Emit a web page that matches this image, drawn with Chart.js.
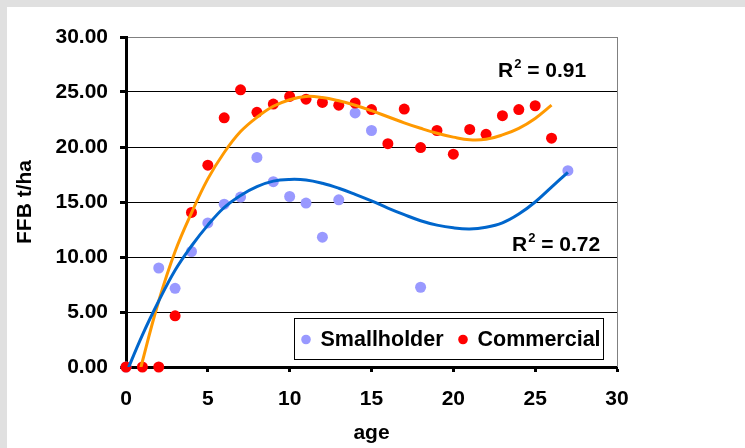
<!DOCTYPE html>
<html>
<head>
<meta charset="utf-8">
<script src="https://cdn.jsdelivr.net/npm/chart.js@4.4.0/dist/chart.umd.min.js"></script>
<style>
  html, body { margin: 0; padding: 0; background: #e0e0e0; }
  #wrap { position: absolute; left: 7px; top: 7px; width: 738px; height: 441px; background: #fff; }
</style>
</head>
<body>
<div id="wrap"><canvas id="ffbChart" width="738" height="441"></canvas></div>
<script>
// observed yields (FFB t/ha) by palm age
const smallholderAge = [0, 2, 3, 4, 5, 6, 7, 8, 9, 10, 11, 12, 13, 14, 15, 18, 27];
const smallholderYield = [0, 9.0, 7.15, 10.5, 13.1, 14.8, 15.45, 19.05, 16.85, 15.5, 14.9, 11.8, 15.2, 23.1, 21.5, 7.25, 17.85];

const commercialAge = [0, 1, 2, 3, 4, 5, 6, 7, 8, 9, 10, 11, 12, 13, 14, 15, 16, 17, 18, 19, 20, 21, 22, 23, 24, 25, 26];
const commercialYield = [0, 0, 0, 4.65, 14.05, 18.35, 22.65, 25.2, 23.15, 23.9, 24.6, 24.35, 24.05, 23.8, 24.0, 23.4, 20.3, 23.45, 19.95, 21.5, 19.35, 21.6, 21.15, 22.85, 23.4, 23.75, 20.8];

// polynomial trendlines
const smallholderTrendAge = [0, 1, 2, 3, 4, 5, 6, 7, 8, 9, 10, 11, 12, 13, 14, 15, 16, 17, 18, 19, 20, 21, 22, 23, 24, 25, 26, 27];
const smallholderTrend = [-0.6, 2.9, 6.0, 8.8, 11.0, 12.9, 14.5, 15.6, 16.4, 16.9, 17.05, 17.0, 16.7, 16.25, 15.7, 15.1, 14.45, 13.85, 13.3, 12.9, 12.65, 12.55, 12.7, 13.1, 13.9, 15.0, 16.35, 17.7];
const commercialTrendAge = [0, 1, 2, 3, 4, 5, 6, 7, 8, 9, 10, 11, 12, 13, 14, 15, 16, 17, 18, 19, 20, 21, 22, 23, 24, 25, 26];
const commercialTrend = [-5.5, 0.5, 6.0, 10.5, 14.0, 17.1, 19.5, 21.4, 22.7, 23.7, 24.3, 24.6, 24.5, 24.2, 23.8, 23.3, 22.75, 22.2, 21.7, 21.25, 20.9, 20.65, 20.7, 21.1, 21.7, 22.6, 23.8];

const xTicks = [0, 5, 10, 15, 20, 25, 30];
const yTicks = [0, 5, 10, 15, 20, 25, 30];
const r2Labels = ['0.91', '0.72'];

const FONT = 'Liberation Sans, Arial, sans-serif';

const pts = (xs, ys) => xs.map((x, i) => ({ x: x, y: ys[i] }));

// gray frame on the right edge of the plot
const plotFrame = {
    id: 'plotFrame',
    beforeDatasetsDraw(chart) {
        const { ctx, chartArea: a } = chart;
        ctx.save();
        ctx.strokeStyle = '#808080';
        ctx.lineWidth = 1;
        ctx.beginPath();
        ctx.moveTo(a.right + 0.5, a.top);
        ctx.lineTo(a.right + 0.5, a.bottom);
        ctx.stroke();
        ctx.restore();
    }
};

function drawR2(ctx, x, y, value) {
    ctx.font = 'bold 21px ' + FONT;
    ctx.fillText('R', x, y);
    let w = ctx.measureText('R').width;
    ctx.font = 'bold 13px ' + FONT;
    ctx.fillText('2', x + w + 1, y - 9);
    w += ctx.measureText('2').width + 1;
    ctx.font = 'bold 21px ' + FONT;
    ctx.fillText(' = ' + value, x + w, y);
}

const overlays = {
    id: 'overlays',
    afterDraw(chart) {
        const { ctx, chartArea: a } = chart;
        ctx.save();
        ctx.fillStyle = '#000';
        ctx.textBaseline = 'alphabetic';
        ctx.textAlign = 'left';
        drawR2(ctx, 491, 70, r2Labels[0]);
        drawR2(ctx, 505, 244, r2Labels[1]);

        // legend box
        const bw = 309, bh = 41;
        const bx = a.right - 14 - bw, by = a.bottom - 8 - bh;
        ctx.fillStyle = '#fff';
        ctx.fillRect(bx, by, bw, bh);
        ctx.strokeStyle = '#000';
        ctx.lineWidth = 1;
        ctx.strokeRect(bx + 0.5, by + 0.5, bw, bh);
        const items = [chart.data.datasets[0], chart.data.datasets[1]];
        const offs = [12, 169];
        ctx.font = 'bold 21.5px ' + FONT;
        items.forEach((ds, i) => {
            ctx.fillStyle = ds.backgroundColor;
            ctx.beginPath();
            ctx.arc(bx + offs[i], by + 21.5, 4.8, 0, Math.PI * 2);
            ctx.fill();
            ctx.fillStyle = '#000';
            ctx.fillText(ds.label, bx + offs[i] + 14.5, by + 28);
        });
        ctx.restore();
    }
};

new Chart(document.getElementById('ffbChart'), {
    type: 'scatter',
    data: {
        datasets: [
            {
                label: 'Smallholder',
                data: pts(smallholderAge, smallholderYield),
                backgroundColor: '#9999FF',
                pointRadius: 5.5,
                pointBorderWidth: 0,
                clip: false,
                order: 3
            },
            {
                label: 'Commercial',
                data: pts(commercialAge, commercialYield),
                backgroundColor: '#FF0000',
                pointRadius: 5.5,
                pointBorderWidth: 0,
                clip: false,
                order: 2
            },
            {
                label: 'Commercial trend',
                data: pts(commercialTrendAge, commercialTrend),
                showLine: true,
                borderColor: '#FF9900',
                borderWidth: 3,
                pointRadius: 0,
                tension: 0.4,
                clip: 0,
                order: 1
            },
            {
                label: 'Smallholder trend',
                data: pts(smallholderTrendAge, smallholderTrend),
                showLine: true,
                borderColor: '#0066CC',
                borderWidth: 3,
                pointRadius: 0,
                tension: 0.4,
                clip: 0,
                order: 0
            }
        ]
    },
    options: {
        responsive: false,
        animation: false,
        layout: { padding: { left: 0, top: 30, right: 128, bottom: 0 } },
        plugins: {
            legend: { display: false },
            tooltip: { enabled: false }
        },
        scales: {
            x: {
                type: 'linear',
                min: 0,
                max: 30,
                afterBuildTicks: s => { s.ticks = xTicks.map(v => ({ value: v })); },
                afterFit: s => { s.height = 81; },
                ticks: {
                    color: '#000',
                    font: { family: FONT, size: 21, weight: 'bold' },
                    padding: 15,
                    maxRotation: 0
                },
                grid: {
                    color: 'rgba(0,0,0,0)',
                    tickColor: '#000',
                    tickLength: 5,
                    tickWidth: 3
                },
                border: { color: '#000', width: 3 },
                title: {
                    display: true,
                    text: 'age',
                    color: '#000',
                    font: { family: FONT, size: 21, weight: 'bold' },
                    padding: { top: 0, bottom: 2 }
                }
            },
            y: {
                min: 0,
                max: 30,
                afterBuildTicks: s => { s.ticks = yTicks.map(v => ({ value: v })); },
                afterFit: s => { s.width = 119; },
                ticks: {
                    color: '#000',
                    font: { family: FONT, size: 21, weight: 'bold' },
                    padding: 12,
                    callback: v => v.toFixed(2)
                },
                grid: {
                    color: c => (c.tick && c.tick.value === 30) ? '#808080' : '#000',
                    lineWidth: 1,
                    tickColor: '#000',
                    tickLength: 6,
                    tickWidth: 3
                },
                border: { color: '#000', width: 3 },
                title: {
                    display: true,
                    text: 'FFB t/ha',
                    color: '#000',
                    font: { family: FONT, size: 21, weight: 'bold' },
                    padding: { top: 6, bottom: 0 }
                }
            }
        }
    },
    plugins: [plotFrame, overlays]
});
</script>
</body>
</html>
